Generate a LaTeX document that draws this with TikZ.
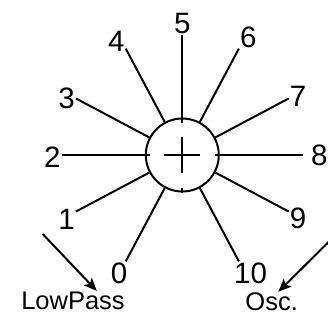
\documentclass[tikz,border=0pt]{standalone}
\usepackage{fontspec}
\setmainfont{Liberation Sans}
\usetikzlibrary{arrows.meta}
\tikzset{
  sumnode/.style={draw=black, circle, line width=2pt, minimum size=73pt, inner sep=0pt},
  spoke/.style={draw=black, line width=2pt},
  num/.style={inner sep=1pt, font=\fontsize{29.5}{30}\selectfont},
  tag/.style={inner sep=1pt, font=\fontsize{25.5}{26}\selectfont},
  feed/.style={-{Stealth[length=13pt, width=11pt, inset=3pt]}, draw=black, line width=2pt}
}
\begin{document}
\begin{tikzpicture}[x=1pt,y=1pt]
  \useasboundingbox (-182.3,-167) rectangle (145.7,155);

  \node[sumnode] (sum) at (0,0) {};

  \node[num, anchor=south] (n5) at (90:120.5) {5};
  \node[num, anchor=-38] (n4) at (118:120.5) {4};
  \node[num, anchor=0] (n3) at (152:120.5) {3};
  \node[num, anchor=15] (n2) at (180:120.5) {2};
  \node[num, anchor=38] (n1) at (208:120.5) {1};
  \node[num, anchor=60] (n0) at (242:120.5) {0};
  \node[num, anchor=135] (n10) at (-62:120.5) {10};
  \node[num, anchor=146] (n9) at (-28:120.5) {9};
  \node[num, anchor=west, xshift=7pt] (n8) at (0:120.5) {8};
  \node[num, anchor=194] (n7) at (28:120.5) {7};
  \node[num, anchor=230] (n6) at (62:120.5) {6};

  \node[tag] (lowpass) at (-109.3,-146) {LowPass};
  \node[tag] (osc) at (89.4,-147) {Osc.};
  \coordinate (lpfrom) at (-139.6,-79);
  \coordinate (oscfrom) at (147,-86.3);

  \draw[spoke] (sum.90) -- (n5.south);
  \draw[spoke] (sum.118) -- (n4.-38);
  \draw[spoke] (sum.152) -- (n3.0);
  \draw[spoke] (sum.180) -- (n2.15);
  \draw[spoke] (sum.208) -- (n1.38);
  \draw[spoke] (sum.242) -- (n0.60);
  \draw[spoke] (sum.-62) -- (n10.135);
  \draw[spoke] (sum.-28) -- (n9.146);
  \draw[spoke, shorten >=7pt] (sum.0) -- (n8.west);
  \draw[spoke] (sum.28) -- (n7.194);
  \draw[spoke] (sum.62) -- (n6.230);

  \draw[spoke] (sum.north) -- ++(0,-5);
  \draw[spoke] (sum.south) -- ++(0,5);
  \draw[spoke] (sum.west) -- ++(5,0);
  \draw[spoke] (sum.east) -- ++(-5,0);
  \draw[spoke] ([xshift=-18pt]sum.center) -- ([xshift=18pt]sum.center);
  \draw[spoke] ([yshift=-18pt]sum.center) -- ([yshift=18pt]sum.center);

  \draw[feed] (lpfrom) -- (lowpass.23);
  \draw[feed] (oscfrom) -- (osc.57);
\end{tikzpicture}
\end{document}
